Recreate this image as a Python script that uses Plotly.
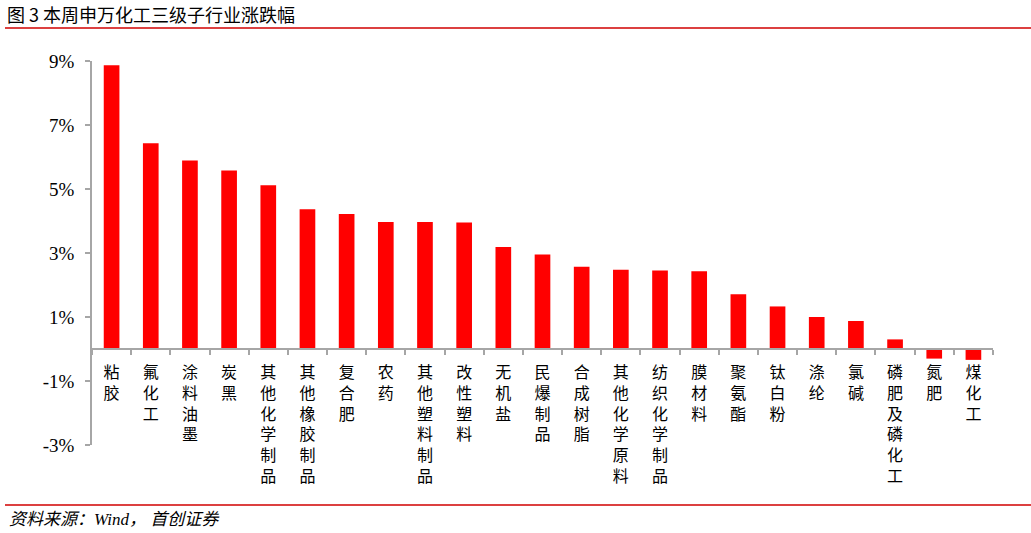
import plotly.graph_objects as go

categories = ["粘胶", "氟化工", "涂料油墨", "炭黑", "其他化学制品", "其他橡胶制品", "复合肥", "农药",
              "其他塑料制品", "改性塑料", "无机盐", "民爆制品", "合成树脂", "其他化学原料", "纺织化学制品",
              "膜材料", "聚氨酯", "钛白粉", "涤纶", "氯碱", "磷肥及磷化工", "氮肥", "煤化工"]
values = [8.87, 6.43, 5.89, 5.58, 5.12, 4.37, 4.22, 3.97, 3.97, 3.95, 3.19, 2.95, 2.57, 2.48, 2.45,
          2.43, 1.71, 1.33, 1.00, 0.875, 0.30, -0.30, -0.34]
y_ticks = [-3, -1, 1, 3, 5, 7, 9]
y_tick_labels = ["-3%", "-1%", "1%", "3%", "5%", "7%", "9%"]
title_text = "图 3 本周申万化工三级子行业涨跌幅"
source_text = "资料来源：Wind， 首创证券"

tick_text = ["<br>".join(list(c)) for c in categories]

fig = go.Figure(go.Bar(x=categories, y=values, marker=dict(color="#FF0000", line=dict(width=0)),
                       width=0.4))

W, H = 1031, 533
L, R, T, B = 92, 38, 61, 88
pw, ph = W - L - R, H - T - B

def px_x(p):
    return (p - L) / pw

def px_y(q):
    return (H - B - q) / ph

ymin, ymax = -3, 9
fig.update_layout(
    width=W, height=H, margin=dict(l=L, r=R, t=T, b=B),
    paper_bgcolor="white", plot_bgcolor="white", showlegend=False,
    bargap=0.6,
    xaxis=dict(type="category", tickmode="array", tickvals=categories, ticktext=tick_text,
               showline=True, linecolor="#A6A6A6", linewidth=1.5, ticks="outside", tickson="boundaries",
               ticklen=5, tickcolor="#A6A6A6", tickwidth=1.5, showgrid=False, zeroline=False,
               anchor="free", position=(0 - ymin) / (ymax - ymin),
               ticklabelstandoff=9,
               tickfont=dict(family="Liberation Serif, Noto Sans CJK SC", size=16, color="black"),
               fixedrange=True),
    yaxis=dict(range=[ymin, ymax], tickmode="array", tickvals=y_ticks, ticktext=y_tick_labels,
               showline=True, linecolor="#A6A6A6", linewidth=1.5, ticks="outside", ticklen=5,
               tickcolor="#A6A6A6", tickwidth=1.5, showgrid=False, zeroline=False,
               ticklabelstandoff=7,
               tickfont=dict(family="Liberation Serif", size=19, color="black")),
)

fig.add_shape(type="line", xref="paper", yref="paper", x0=px_x(5), x1=px_x(1031), y0=px_y(28), y1=px_y(28),
              line=dict(color="#D00000", width=1.5))
fig.add_shape(type="line", xref="paper", yref="paper", x0=px_x(5), x1=px_x(1031), y0=px_y(505), y1=px_y(505),
              line=dict(color="#D00000", width=1.5))
fig.add_annotation(xref="paper", yref="paper", x=px_x(5), y=px_y(14), xanchor="left", yanchor="middle",
                   text=title_text, showarrow=False,
                   font=dict(family="Noto Sans CJK SC", size=18, color="black"))
fig.add_annotation(xref="paper", yref="paper", x=px_x(7), y=px_y(519), xanchor="left", yanchor="middle",
                   text="<i>" + source_text + "</i>", showarrow=False,
                   font=dict(family="Liberation Serif, Noto Sans CJK SC", size=17, color="black"))

fig.write_html("out.html")
